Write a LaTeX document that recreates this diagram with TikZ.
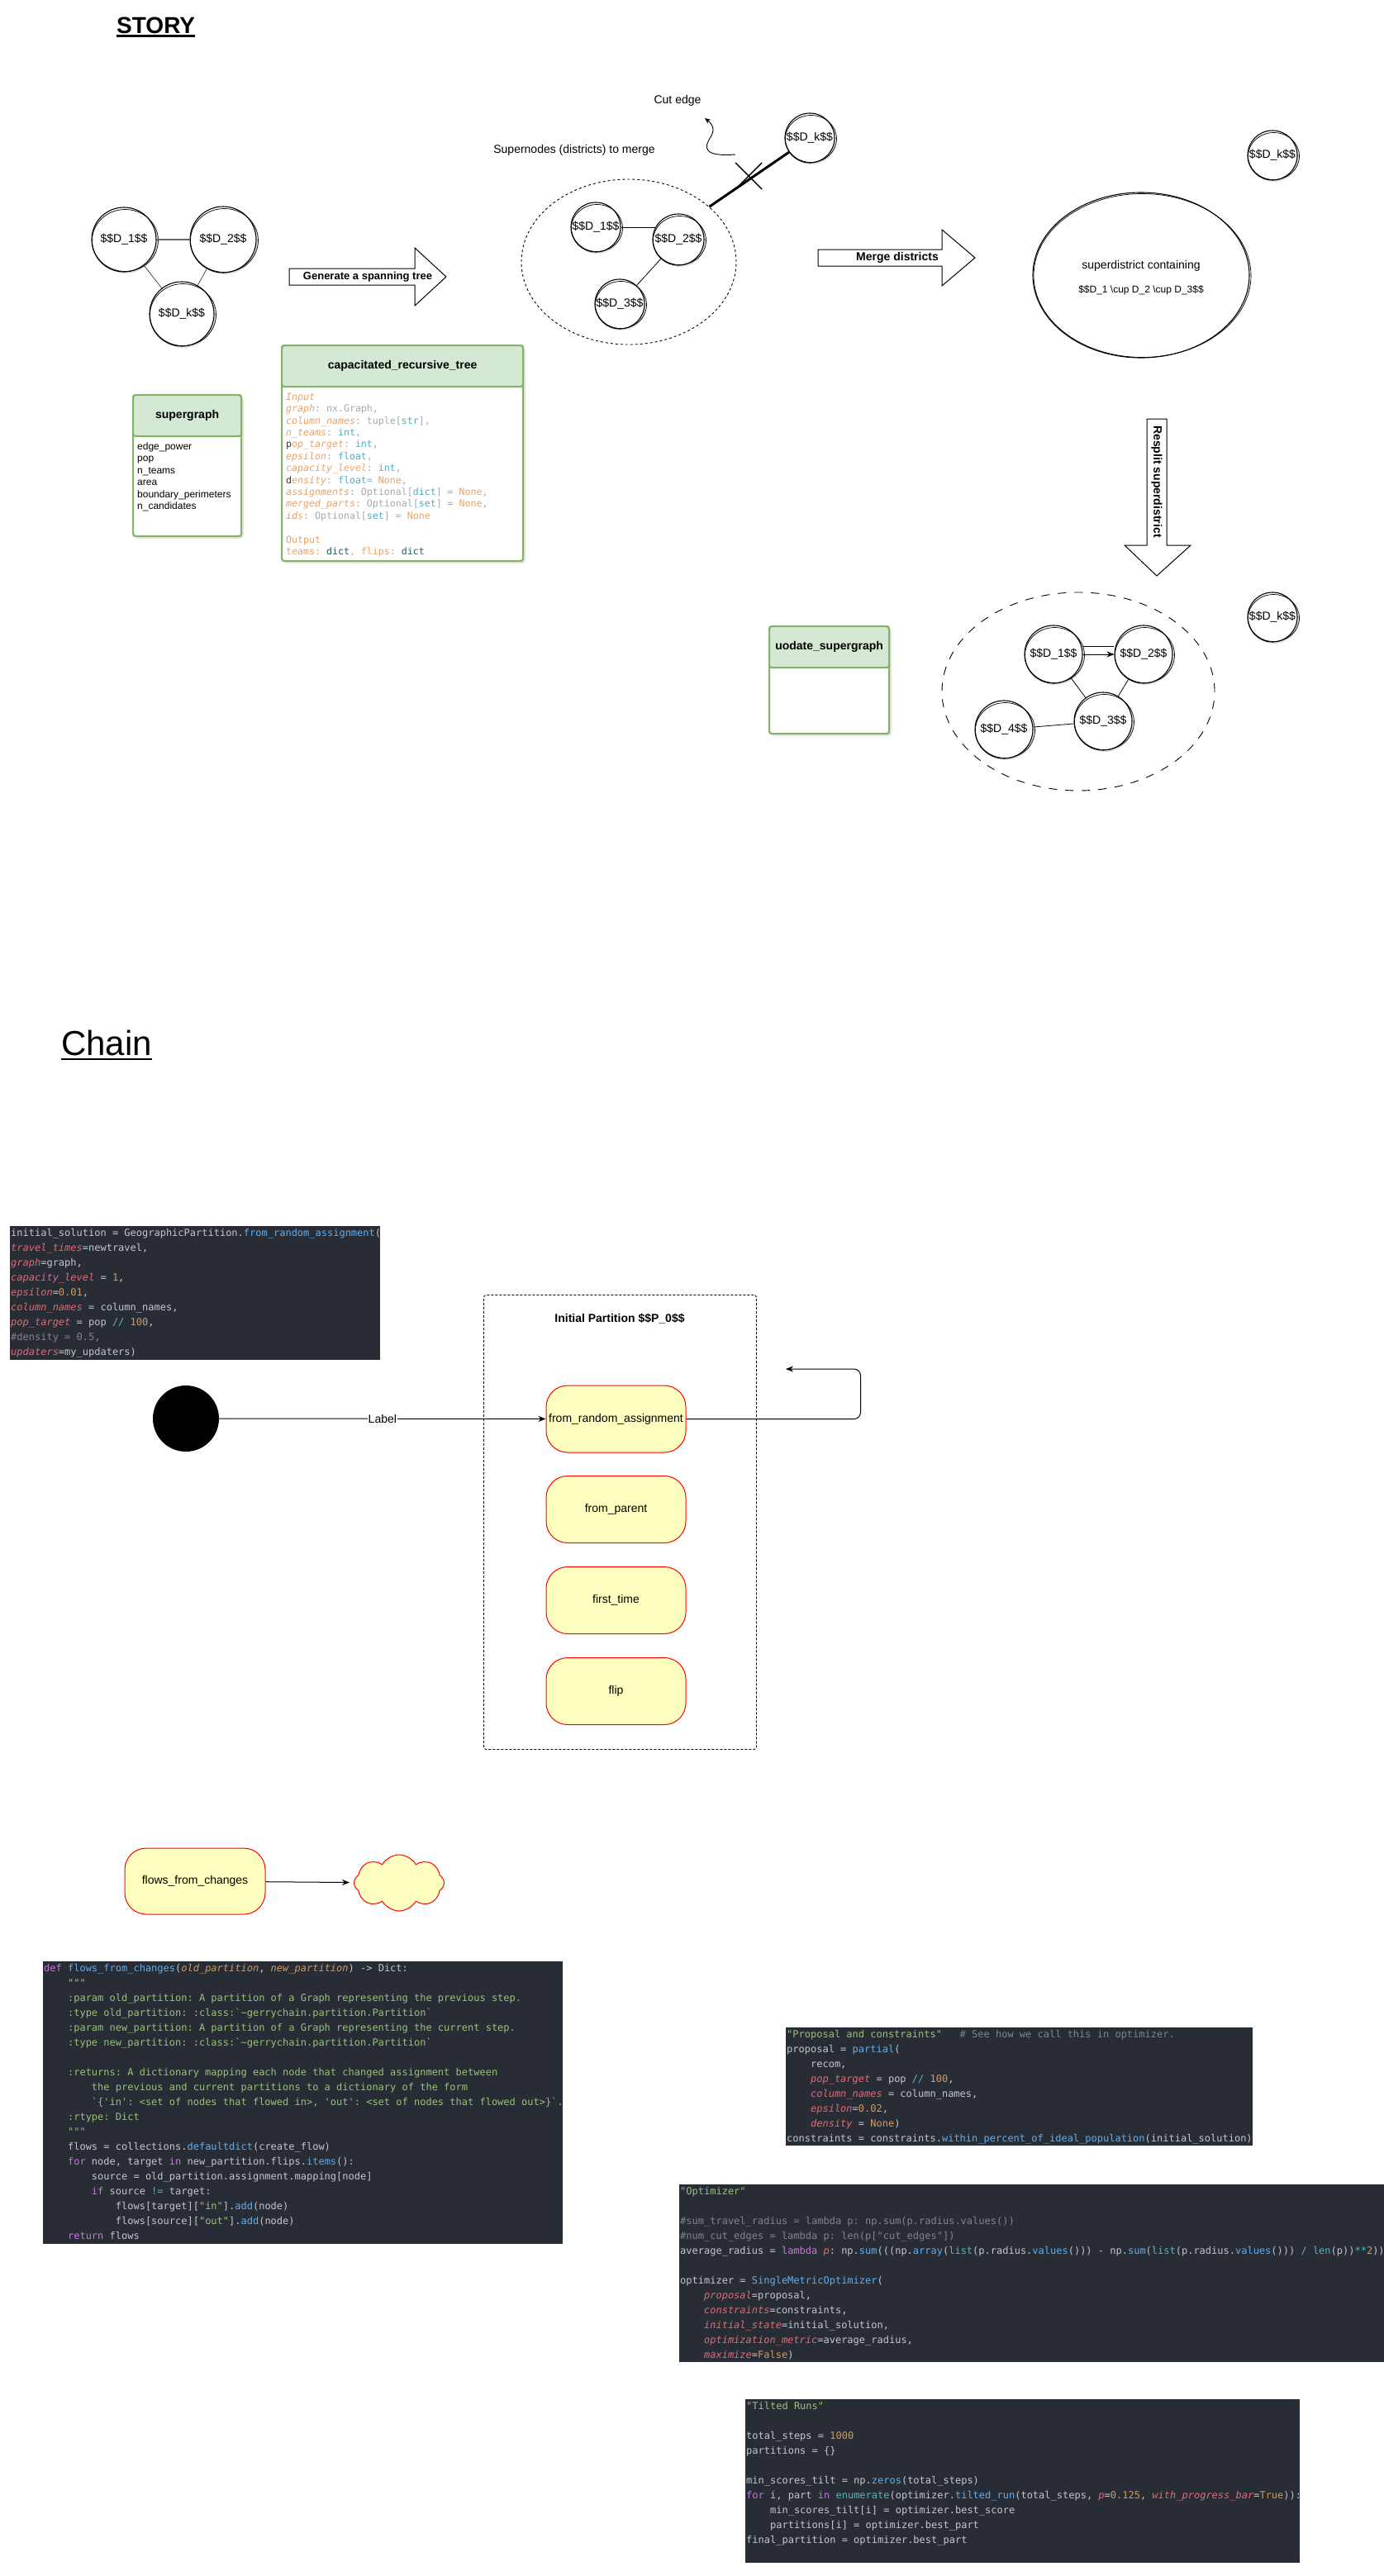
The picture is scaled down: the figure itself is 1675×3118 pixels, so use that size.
\documentclass[tikz,border=0pt]{standalone}
\usepackage{fontspec}
\setmainfont{Liberation Sans}
\setmonofont{DejaVu Sans Mono}
\usetikzlibrary{shapes.geometric,shapes.symbols,arrows.meta,shadows,calc}

% code theme (dark)
\definecolor{codebg}{HTML}{282C34}
\definecolor{cfg}{HTML}{C2C7D0}
\definecolor{cred}{HTML}{E06C75}
\definecolor{corange}{HTML}{D19A66}
\definecolor{cblue}{HTML}{61AFEF}
\definecolor{ccyan}{HTML}{56B6C2}
\definecolor{cpurple}{HTML}{C678DD}
\definecolor{cgreen}{HTML}{98C379}
\definecolor{cgray}{HTML}{7F848E}
% code theme (light)
\definecolor{lor}{HTML}{EBA166}
\definecolor{lgy}{HTML}{A3A9B4}
\definecolor{lcy}{HTML}{4EAEC2}
\definecolor{ldk}{HTML}{1F5C6B}
% boxes
\definecolor{grnfill}{HTML}{D5E8D4}
\definecolor{grnline}{HTML}{82B366}
\definecolor{stateyel}{HTML}{FFFFC0}

\newcommand\fs[2]{\fontsize{#1}{#2}\selectfont}
\newcommand\ind[1]{\hspace*{\dimexpr0.602em*#1\relax}}
\newcommand\kr[1]{\textcolor{cred}{\itshape #1}}
\newcommand\ko[1]{\textcolor{corange}{#1}}
\newcommand\kb[1]{\textcolor{cblue}{#1}}
\newcommand\kc[1]{\textcolor{ccyan}{#1}}
\newcommand\kp[1]{\textcolor{cpurple}{#1}}
\newcommand\kg[1]{\textcolor{cgreen}{#1}}
\newcommand\kq[1]{\textcolor{cgray}{#1}}
\newcommand\Lo[1]{\textcolor{lor}{#1}}
\newcommand\Li[1]{\textcolor{lor}{\itshape #1}}
\newcommand\Lg[1]{\textcolor{lgy}{#1}}
\newcommand\Lc[1]{\textcolor{lcy}{#1}}
\newcommand\Ld[1]{\textcolor{ldk}{#1}}

\tikzset{
  skcirc/.style={circle, draw=black, line width=1.1pt, fill=white, inner sep=0pt,
    font=\fs{14}{17}, drop shadow={opacity=0.25, shadow xshift=2pt, shadow yshift=-2pt}},
  sketchline/.style={draw=black, line width=0.7pt},
  edge/.style={draw=black!70, line width=0.8pt},
  hdr/.style={rectangle, draw=grnline, fill=grnfill, line width=2.2pt, font=\bfseries\fs{14}{17},
    anchor=north west, inner sep=0pt, rounded corners=3pt},
  bodyb/.style={rectangle, draw=grnline, fill=white, line width=2.2pt, anchor=north west,
    inner sep=0pt, rounded corners=3pt, drop shadow={opacity=0.2, shadow xshift=3pt, shadow yshift=-3pt}},
  state/.style={rectangle, rounded corners=26pt, draw=red, fill=stateyel, line width=1pt,
    minimum width=169, minimum height=81, font=\fs{14}{17}, inner sep=0pt},
  codebox/.style={rectangle, fill=codebg, anchor=north west, inner sep=0pt, draw=none},
  codetext/.style={anchor=north west, inner sep=0pt, align=left, font=\ttfamily\fs{12}{18}, text=cfg},
  blockarrow/.style={draw=black, line width=1pt, fill=white},
  plain/.style={font=\fs{14}{17}, inner sep=1pt},
  conn/.style={draw=black, line width=1pt, -{Stealth[length=9pt,width=7pt]}},
}

% sketchy circle: name, x, y, radius, text
\newcommand\skc[5]{%
  \node[skcirc, minimum size={2*#4}] (#1) at (#2,#3) {#5};
  \draw[sketchline] ($(#1.center)+(1.5,1)$) ellipse ({#4+1} and {#4-1.5});
}

\begin{document}
\begin{tikzpicture}[x=1pt,y=-1pt]
\useasboundingbox (0,0) rectangle (1675,3118);

% ---------------- STORY ----------------
\node[anchor=base west, inner sep=0, font=\bfseries\fs{28}{34}] (story) at (141,41) {STORY};
\draw[line width=2.2pt] ([yshift=-2.5pt]story.base west) -- ([yshift=-2.5pt]story.base east);

% supergraph of districts
\skc{sgA}{150}{290}{39}{\$\$D\_1\$\$}
\skc{sgB}{270}{290}{40}{\$\$D\_2\$\$}
\skc{sgK}{220}{380}{39}{\$\$D\_k\$\$}
\draw[edge, line width=1.6pt, draw=black!60] (sgA) -- (sgB);
\draw[edge] (sgA) -- (sgK);
\draw[edge] (sgB) -- (sgK);

% step arrow: spanning tree
\draw[blockarrow] (350,325) -- (502,325) -- (502,300) -- (540,335) -- (502,370) -- (502,345) -- (350,345) -- cycle;
\node[font=\bfseries\fs{13}{16}] (genlbl) at (445,335) {Generate a spanning tree};

% supergraph class box
\node[bodyb, minimum width=131, minimum height=171] (sgbox) at (160,477) {};
\node[hdr, minimum width=131, minimum height=50] (sghead) at (160,477) {supergraph};
\node[anchor=north west, inner sep=0, align=left, font=\fs{12}{14.5}] (sgitems) at (166,534)
  {\strut edge\_power\\pop\\n\_teams\\area\\boundary\_perimeters\\n\_candidates};

% capacitated_recursive_tree box
\node[bodyb, minimum width=292, minimum height=261] (crtbox) at (340,417) {};
\node[hdr, minimum width=292, minimum height=50] (crthead) at (340,417) {capacitated\_recursive\_tree};
\node[anchor=north west, inner sep=0, align=left, font=\ttfamily\fs{11.6}{14.4}] (crtcode) at (346,474) {%
\strut\Li{Input}\\
\Li{graph}\Lg{: nx.Graph,}\\
\Li{column\_names}\Lg{: tuple[}\Lc{str}\Lg{],}\\
\Li{n\_teams}\Lg{: }\Lc{int}\Lg{,}\\
\textcolor{black!80}{p}\Li{op\_target}\Lg{: }\Lc{int}\Lg{,}\\
\Li{epsilon}\Lg{: }\Lc{float}\Lg{,}\\
\Li{capacity\_level}\Lg{: }\Lc{int}\Lg{,}\\
\textcolor{black!80}{d}\Li{ensity}\Lg{: }\Lc{float}\Lg{ = }\Lo{None}\Lg{,}\\
\Li{assignments}\Lg{: Optional[}\Lc{dict}\Lg{] = }\Lo{None}\Lg{,}\\
\Li{merged\_parts}\Lg{: Optional[}\Lc{set}\Lg{] = }\Lo{None}\Lg{,}\\
\Li{ids}\Lg{: Optional[}\Lc{set}\Lg{] = }\Lo{None}\\
\strut\\
\Lo{Output}\\
\Lo{teams: }\Ld{dict}\Lo{, flips: }\Ld{dict}};

% districts to merge
\node[ellipse, draw, dash pattern=on 3pt off 3pt, line width=0.9pt, minimum width=260, minimum height=200, inner sep=0] (grp) at (761,317) {};
\skc{mA}{721}{275}{30}{\$\$D\_1\$\$}
\skc{mB}{821}{290}{31}{\$\$D\_2\$\$}
\skc{mC}{750}{368}{30}{\$\$D\_3\$\$}
\skc{mK}{980}{167}{30}{\$\$D\_k\$\$}
\draw[edge, draw=black] (mA.east) -- ($(mB.center)+(-27,-15)$);
\draw[edge, draw=black] (mB) -- (mC);
\draw[line width=3pt] (grp) -- (mK);
% cross on the cut edge
\draw[line width=1.4pt] (890,197) -- (922,229);
\draw[line width=1.4pt] (922,197) -- (895,224);
\node[plain] (cutlbl) at (820,122) {Cut edge};
\node[plain] (suplbl) at (695,182) {Supernodes (districts) to merge};
\coordinate (cutTail) at (890,187);
\coordinate (cutTip) at (853,143);
\draw[line width=0.9pt, -{Stealth[length=7pt,width=6pt]}] (cutTail) .. controls (850,190) and (852,178) .. (860,166) .. controls (866,156) and (862,150) .. (cutTip);

% step arrow: merge
\draw[blockarrow] (990,302) -- (1140,302) -- (1140,278) -- (1180,312) -- (1140,346) -- (1140,322) -- (990,322) -- cycle;
\node[font=\bfseries\fs{14}{17}] (mrglbl) at (1086,312) {Merge districts};

% merged superdistrict
\node[ellipse, draw, line width=1.1pt, minimum width=262, minimum height=200, inner sep=0] (sd) at (1381,333) {};
\draw[sketchline] ($(sd.center)+(1.5,0.5)$) ellipse (131.5 and 99);
\node[plain] (sdt1) at (1381,322) {superdistrict containing};
\node[font=\fs{12}{14}] (sdt2) at (1381,351) {\$\$D\_1 \textbackslash cup D\_2 \textbackslash cup D\_3\$\$};
\skc{tK}{1540}{188}{30}{\$\$D\_k\$\$}

% step arrow: resplit
\draw[blockarrow] (1388,507) -- (1412,507) -- (1412,660) -- (1441,660) -- (1400,697) -- (1361,660) -- (1388,660) -- cycle;
\node[font=\bfseries\fs{14}{17}, rotate=-90] (rslbl) at (1400,583) {Resplit superdistrict};

% update box
\node[bodyb, minimum width=145, minimum height=130] (upbox) at (930,757) {};
\node[hdr, minimum width=145, minimum height=50] (uphead) at (930,757) {uodate\_supergraph};

% resplit districts
\node[ellipse, draw, dash pattern=on 10pt off 10pt, line width=0.9pt, minimum width=330, minimum height=240, inner sep=0] (lg) at (1305,837) {};
\skc{lA}{1275}{792}{35}{\$\$D\_1\$\$}
\skc{lB}{1384}{792}{35}{\$\$D\_2\$\$}
\skc{lC}{1335}{873}{35}{\$\$D\_3\$\$}
\skc{lD}{1215}{883}{35}{\$\$D\_4\$\$}
\skc{lK}{1540}{747}{30}{\$\$D\_k\$\$}
\draw[conn, line width=0.9pt] (lA) -- (lB);
\draw[line width=0.9pt] ([yshift=10pt]lA.east) -- ([yshift=10pt]lB.west);
\draw[edge, draw=black] (lA) -- (lC);
\draw[edge, draw=black] (lB) -- (lC);
\draw[edge, draw=black] (lD) -- (lC);

% ---------------- Chain ----------------
\node[anchor=base west, inner sep=0, font=\fs{42}{50}] (chain) at (74,1277) {Chain};
\draw[line width=2pt] ([yshift=-5pt]chain.base west) -- ([yshift=-5pt]chain.base east);

\node[codebox, minimum width=448, minimum height=162] (cbA) at (12,1484) {};
\node[codetext] (ctA) at (13,1484) {%
\strut initial\_solution = GeographicPartition.\kb{from\_random\_assignment}(\\
\kr{travel\_times}=newtravel,\\
\kr{graph}=graph,\\
\kr{capacity\_level} = \ko{1},\\
\kr{epsilon}=\ko{0.01},\\
\kr{column\_names} = column\_names,\\
\kr{pop\_target} = pop \kc{//} \ko{100},\\
\kq{\#density = 0.5,}\\
\kr{updaters}=my\_updaters)};

% partition states
\node[draw, dash pattern=on 3pt off 2pt, line width=0.9pt, rounded corners=3pt, minimum width=330, minimum height=550, anchor=north west, inner sep=0] (cont) at (585,1567) {};
\node[font=\bfseries\fs{14}{17}] (conttitle) at (750,1596) {Initial Partition \$\$P\_0\$\$};
\node[circle, fill=black, minimum size=80, inner sep=0] (start) at (225,1717) {};
\node[state] (s1) at (745.5,1717.5) {from\_random\_assignment};
\node[state] (s2) at (745.5,1827) {from\_parent};
\node[state] (s3) at (745.5,1937) {first\_time};
\node[state] (s4) at (745.5,2047) {flip};
\draw[conn] (start) -- node[fill=white, font=\fs{14}{17}, inner sep=1pt] {Label} (s1);
\coordinate (loopEnd) at (951,1657);
\draw[conn, rounded corners=8pt] (s1.east) -- ++(211,0) -- ++(0,-60.5) -- (loopEnd);

% flows
\node[state, minimum width=170, minimum height=80] (ffc) at (236,2277) {flows\_from\_changes};
\node[cloud, cloud puffs=8, cloud puff arc=120, aspect=1.6, draw=red, fill=stateyel, line width=1pt, minimum width=109, minimum height=68, inner sep=0] (cloud) at (483,2279) {};
\draw[conn, shorten >=5pt] (ffc) -- (cloud);

\node[codebox, minimum width=629, minimum height=342] (cbB) at (52,2374) {};
\node[codetext] (ctB) at (53,2374) {%
\strut\kp{def} \kb{flows\_from\_changes}(\ko{\itshape old\_partition}, \ko{\itshape new\_partition}) -> Dict:\\
\ind{4}\kg{"""}\\
\ind{4}\kg{:param old\_partition: A partition of a Graph representing the previous step.}\\
\ind{4}\kg{:type old\_partition: :class:`\textasciitilde gerrychain.partition.Partition`}\\
\ind{4}\kg{:param new\_partition: A partition of a Graph representing the current step.}\\
\ind{4}\kg{:type new\_partition: :class:`\textasciitilde gerrychain.partition.Partition`}\\
\strut\\
\ind{4}\kg{:returns: A dictionary mapping each node that changed assignment between}\\
\ind{8}\kg{the previous and current partitions to a dictionary of the form}\\
\ind{8}\kg{`\{'in': <set of nodes that flowed in>, 'out': <set of nodes that flowed out>\}`.}\\
\ind{4}\kg{:rtype: Dict}\\
\ind{4}\kg{"""}\\
\ind{4}flows = collections.\kb{defaultdict}(create\_flow)\\
\ind{4}\kp{for} node, target \kp{in} new\_partition.flips.\kb{items}():\\
\ind{8}source = old\_partition.assignment.mapping[node]\\
\ind{8}\kp{if} source \kc{!=} target:\\
\ind{12}flows[target][\kg{"in"}].\kb{add}(node)\\
\ind{12}flows[source][\kg{"out"}].\kb{add}(node)\\
\ind{4}\kp{return} flows};

% proposal
\node[codebox, minimum width=565, minimum height=143] (cbC) at (951,2454) {};
\node[codetext] (ctC) at (952,2454) {%
\strut\kg{"Proposal and constraints"}\ind{3}\kq{\# See how we call this in optimizer.}\\
proposal = \kb{partial}(\\
\ind{4}recom,\\
\ind{4}\kr{pop\_target} = pop \kc{//} \ko{100},\\
\ind{4}\kr{column\_names} = column\_names,\\
\ind{4}\kr{epsilon}=\ko{0.02},\\
\ind{4}\kr{density} = \ko{None})\\
constraints = constraints.\kb{within\_percent\_of\_ideal\_population}(initial\_solution)};

% optimizer
\node[codebox, minimum width=853, minimum height=215] (cbD) at (822,2644) {};
\node[codetext] (ctD) at (823,2644) {%
\strut\kg{"Optimizer"}\\
\strut\\
\kq{\#sum\_travel\_radius = lambda p: np.sum(p.radius.values())}\\
\kq{\#num\_cut\_edges = lambda p: len(p["cut\_edges"])}\\
average\_radius = \kp{lambda} \kr{p}: np.\kb{sum}(((np.\kb{array}(\kc{list}(p.radius.\kb{values}())) - np.\kb{sum}(\kc{list}(p.radius.\kb{values}())) \kc{/} \kc{len}(p))\kc{**}\ko{2}))\\
\strut\\
optimizer = \kb{SingleMetricOptimizer}(\\
\ind{4}\kr{proposal}=proposal,\\
\ind{4}\kr{constraints}=constraints,\\
\ind{4}\kr{initial\_state}=initial\_solution,\\
\ind{4}\kr{optimization\_metric}=average\_radius,\\
\ind{4}\kr{maximize}=\ko{False})};

% tilted runs
\node[codebox, minimum width=671, minimum height=198] (cbE) at (902,2904) {};
\node[codetext] (ctE) at (903,2904) {%
\strut\kg{"Tilted Runs"}\\
\strut\\
total\_steps = \ko{1000}\\
partitions = \{\}\\
\strut\\
min\_scores\_tilt = np.\kb{zeros}(total\_steps)\\
\kp{for} i, part \kp{in} \kc{enumerate}(optimizer.\kb{tilted\_run}(total\_steps, \kr{p}=\ko{0.125}, \kr{with\_progress\_bar}=\ko{True})):\\
\ind{4}min\_scores\_tilt[i] = optimizer.best\_score\\
\ind{4}partitions[i] = optimizer.best\_part\\
final\_partition = optimizer.best\_part};

\end{tikzpicture}
\end{document}
